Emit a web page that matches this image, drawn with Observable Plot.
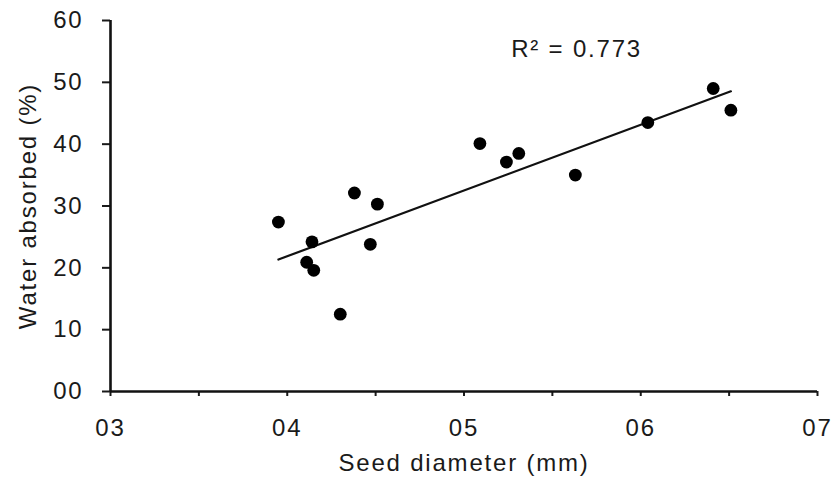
<!DOCTYPE html>
<html>
<head>
<meta charset="utf-8">
<script src="https://cdn.jsdelivr.net/npm/d3@7"></script>
<script src="https://cdn.jsdelivr.net/npm/@observablehq/plot@0.6"></script>
<style>
  html, body { margin: 0; padding: 0; background: #fff; }
</style>
</head>
<body>
<div id="chart"></div>
<script>
// Seed diameter (mm) and water absorbed (%)
const seedDiameter = [0.395, 0.414, 0.411, 0.415, 0.430, 0.438, 0.447, 0.451, 0.509, 0.524, 0.531, 0.563, 0.604, 0.641, 0.651];
const waterAbsorbed = [27.4, 24.2, 20.9, 19.6, 12.5, 32.1, 23.8, 30.3, 40.1, 37.1, 38.5, 35.0, 43.5, 49.0, 45.5];

const xMajorTicks = [0.3, 0.4, 0.5, 0.6, 0.7];
const xTickLabels = ["03", "04", "05", "06", "07"];
const xMinorTicks = [0.35, 0.45, 0.55, 0.65];
const yTicks = [0, 10, 20, 30, 40, 50, 60];
const yTickLabels = ["00", "10", "20", "30", "40", "50", "60"];

const annotation = [{x: 0.5637, y: 55.3, text: "R² = 0.773"}];

const data = seedDiameter.map((d, i) => ({x: d, y: waterAbsorbed[i]}));

const chart = Plot.plot({
  width: 835,
  height: 481,
  marginLeft: 110,
  marginRight: 18,
  marginTop: 20,
  marginBottom: 90,
  style: {
    fontFamily: "'Liberation Sans', Arial, sans-serif",
    fontSize: "24px",
    letterSpacing: "1.8px",
    color: "#1a1a1a",
    background: "#fff"
  },
  x: {domain: [0.3, 0.7]},
  y: {domain: [0, 60]},
  marks: [
    Plot.axisX({
      ticks: xMajorTicks,
      tickFormat: (d, i) => xTickLabels[i],
      tickSize: 5,
      tickPadding: 22,
      strokeWidth: 2,
      label: "Seed diameter (mm)",
      labelAnchor: "center",
      labelArrow: "none",
      labelOffset: 79
    }),
    Plot.axisX({
      ticks: xMinorTicks,
      tickFormat: () => "",
      tickSize: 5,
      strokeWidth: 2,
      label: null
    }),
    Plot.axisY({
      ticks: yTicks,
      tickFormat: (d, i) => yTickLabels[i],
      tickSize: 8,
      tickPadding: 19,
      strokeWidth: 2,
      label: "Water absorbed (%)",
      labelAnchor: "center",
      labelArrow: "none",
      labelOffset: 92
    }),
    Plot.ruleY([0], {stroke: "#111", strokeWidth: 2.6}),
    Plot.ruleX([0.3], {stroke: "#111", strokeWidth: 2.6}),
    Plot.linearRegressionY(data, {x: "x", y: "y", ci: 0, stroke: "#111", strokeWidth: 2.2}),
    Plot.dot(data, {x: "x", y: "y", r: 6.4, fill: "#000", stroke: "none"}),
    Plot.text(annotation, {x: "x", y: "y", text: "text", fontSize: 24, fill: "#1a1a1a", textAnchor: "middle", lineAnchor: "middle"})
  ]
});

document.getElementById("chart").appendChild(chart);
</script>
</body>
</html>
